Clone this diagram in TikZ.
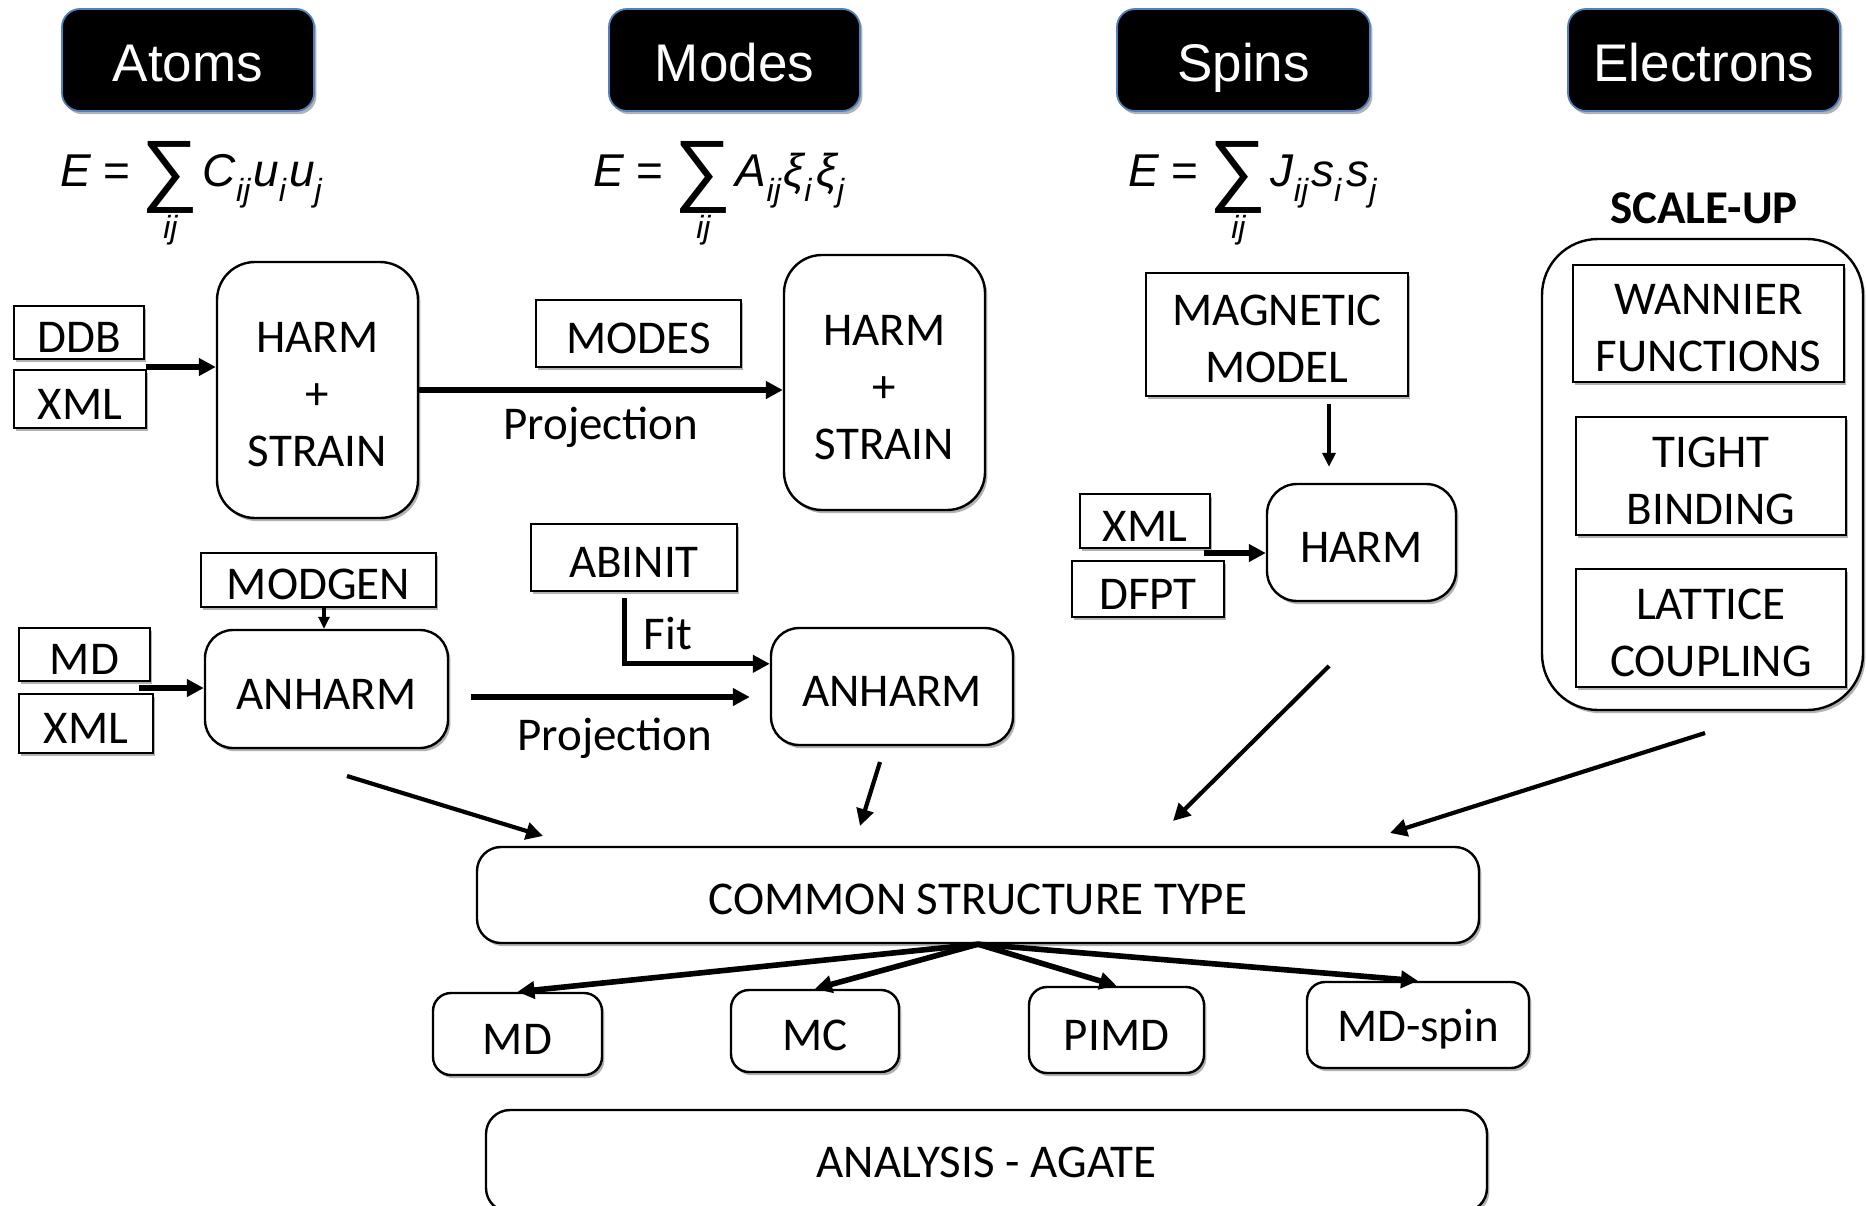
\documentclass[tikz,border=0pt]{standalone}
\usepackage{fontspec}
\setmainfont{Carlito}
\newfontfamily\headfont{Liberation Sans}
\newfontfamily\eqfont{Liberation Sans}
\usetikzlibrary{arrows.meta,shadows,calc}

\definecolor{headedge}{HTML}{4F81BD}

% pieces of the energy expressions
\newcommand\eqit{\eqfont\itshape\fontsize{23}{27}\selectfont}
\newcommand\eqrm{\eqfont\upshape\fontsize{23}{27}\selectfont}
\newcommand\lowidx[1]{\raisebox{-7.5pt}{\eqfont\itshape\fontsize{16}{16}\selectfont #1}\hspace{1.5pt}}
\newcommand\eqsum[1]{%
  \setbox0=\hbox{\eqfont\upshape\fontsize{40}{40}\selectfont ∑}%
  \rlap{\raisebox{-26pt}{\makebox[\wd0]{\eqfont\itshape\fontsize{16}{16}\selectfont #1}}}%
  \raisebox{-5pt}{\copy0}\hspace{2pt}}
% first-line strut that seats stacked labels a little low, as in single-line boxes
\newcommand\capstrut{\rule{0pt}{20pt}}

\tikzset{
  softshadow/.style={drop shadow={shadow xshift=1.2pt,shadow yshift=-1.6pt,opacity=0.3,fill=black}},
  header/.style={fill=black, draw=headedge, line width=0.9pt, rounded corners=9pt,
    text=white, font=\headfont\fontsize{26.5}{30}\selectfont, inner sep=0pt,
    text depth=0pt, execute at begin node={\rule{0pt}{21pt}}, softshadow},
  srcbox/.style={draw, line width=1.2pt, fill=white, inner sep=0pt, align=center,
    font=\fontsize{23.5}{28.5}\selectfont, softshadow},
  onebox/.style={srcbox, execute at begin node={\capstrut}},
  stagebox/.style={srcbox, rounded corners=#1},
  stagebox/.default=15pt,
  onestage/.style={onebox, rounded corners=#1},
  feed/.style={line width=2.6pt, -{Triangle[length=8.5pt,width=8.5pt]}},
  thinfeed/.style={line width=1.6pt, -{Triangle[length=6pt,width=5.5pt]}},
  lbl/.style={font=\fontsize{23.5}{28.5}\selectfont, inner sep=0pt, anchor=base},
  eq/.style={inner sep=0pt, anchor=base west},
}

\begin{document}
\begin{tikzpicture}[x=0.5pt,y=-0.5pt]
\useasboundingbox (0,0) rectangle (1866,1205);

% column headers
\node[header, minimum width=126pt,   minimum height=51pt] (atoms)     at (188,60)    {Atoms};
\node[header, minimum width=125.5pt, minimum height=51pt] (modes)     at (734.5,60)  {Modes};
\node[header, minimum width=126.5pt, minimum height=51pt] (spins)     at (1243.5,60) {Spins};
\node[header, minimum width=136pt,   minimum height=51pt] (electrons) at (1704,60)   {Electrons};

% energy expressions
\node[eq] (eqatoms) at (60,186)
  {{\eqit E}\hspace{6pt}{\eqrm =}\hspace{6pt}\eqsum{ij}{\eqit C}\lowidx{ij}{\eqit u}\lowidx{i}{\eqit u}\lowidx{j}};
\node[eq] (eqmodes) at (593,186)
  {{\eqit E}\hspace{6pt}{\eqrm =}\hspace{6pt}\eqsum{ij}{\eqit A}\lowidx{ij}{\eqit ξ}\lowidx{i}\hspace{1pt}{\eqit ξ}\lowidx{j}};
\node[eq] (eqspins) at (1128,186)
  {{\eqit E}\hspace{6pt}{\eqrm =}\hspace{6pt}\eqsum{ij}{\eqit J}\lowidx{ij}{\eqit s}\lowidx{i}\hspace{1pt}{\eqit s}\lowidx{j}};

% atoms: harmonic part
\node[onebox, minimum width=65pt, minimum height=26.5pt] (ddb)  at (79,332.5) {DDB};
\node[onebox, minimum width=66pt, minimum height=29pt]   (xmla) at (80,399)   {XML};
\node[stagebox=19pt, minimum width=100.5pt, minimum height=128pt] (harma) at (317.5,390) {\capstrut HARM\\+\\STRAIN};

% modes: harmonic part
\node[onebox, minimum width=102.5pt, minimum height=33.5pt] (modesrc) at (638.5,333.5) {MODES};
\node[stagebox=19pt, minimum width=100.5pt, minimum height=127.5pt] (harmm) at (884.5,382.5) {\capstrut HARM\\+\\STRAIN};
\node[lbl] (proja) at (601,439) {Projection};

% atoms: anharmonic part
\node[onebox, minimum width=117.5pt, minimum height=27pt] (modgen) at (318.5,580) {MODGEN};
\node[onebox, minimum width=65.5pt, minimum height=26.5pt] (mdsrc) at (84.5,654.5) {MD};
\node[onebox, minimum width=67pt, minimum height=29.5pt] (xmlb) at (86,723.5) {XML};
\node[onestage=14pt, minimum width=121.5pt, minimum height=59pt] (anharma) at (326.5,689) {ANHARM};

% modes: anharmonic part
\node[onebox, minimum width=103pt, minimum height=33.5pt] (abinit) at (634,557.5) {ABINIT};
\node[onestage=14pt, minimum width=121pt, minimum height=58.5pt] (anharmm) at (892,686.5) {ANHARM};
\node[lbl] (fit) at (668,649) {Fit};
\node[lbl] (projb) at (615,750) {Projection};

% spins
\node[srcbox, minimum width=131pt, minimum height=61.5pt] (magnetic) at (1277,334.5) {\capstrut MAGNETIC\\MODEL};
\node[onebox, minimum width=65pt, minimum height=27pt] (xmlc) at (1145,521) {XML};
\node[onebox, minimum width=76pt, minimum height=28pt] (dfpt) at (1148,589) {DFPT};
\node[onestage=15pt, minimum width=94.5pt, minimum height=58.5pt] (harms) at (1361.5,542.5) {HARM};

% electrons
\node[lbl, font=\bfseries\fontsize{23.5}{28.5}\selectfont] (scaleup) at (1704,223) {SCALE-UP};
\node[stagebox=28pt, minimum width=160.5pt, minimum height=235.5pt] (scalebox) at (1702.5,474.5) {};
\node[srcbox, minimum width=135.5pt, minimum height=58.5pt] (wannier) at (1708.5,323.5) {\capstrut WANNIER\\FUNCTIONS};
\node[srcbox, minimum width=135pt, minimum height=59pt] (tight) at (1711,476) {\capstrut TIGHT\\BINDING};
\node[srcbox, minimum width=135pt, minimum height=59pt] (lattice) at (1711,628) {\capstrut LATTICE\\COUPLING};

% shared structure and drivers
\node[onestage=12pt, minimum width=501pt, minimum height=48pt] (cst) at (978,895) {COMMON STRUCTURE TYPE};
\node[onestage=9pt, minimum width=84.5pt, minimum height=41pt] (md) at (517.5,1034) {MD};
\node[onestage=9pt, minimum width=84pt, minimum height=41pt] (mc) at (815,1031) {MC};
\node[onestage=9pt, minimum width=87.5pt, minimum height=43pt] (pimd) at (1116.5,1030) {PIMD};
\node[onestage=9pt, minimum width=111pt, minimum height=43pt] (mdspin) at (1418,1025) {MD-spin};
\node[stagebox=12pt, minimum width=500.5pt, minimum height=51pt] (agate) at (986.5,1161) {};
\node[lbl] (agatetext) at (986.5,1177) {ANALYSIS - AGATE};

% free ends of the connectors
\coordinate (ddbout) at (146,367);
\coordinate (mdout) at (139,688);
\coordinate (xmlcout) at (1204,553);
\coordinate (atomsin) at (347,776);
\coordinate (atomstip) at (543,836);
\coordinate (modesin) at (880,762);
\coordinate (modestip) at (860,826);
\coordinate (spinsin) at (1329,666);
\coordinate (spinstip) at (1173,821);
\coordinate (elecin) at (1705,733);
\coordinate (electip) at (1390,833);

% connectors
\draw[feed] (ddbout) -- (ddbout -| harma.west);
\draw[feed] (harma.east) -- (harma.east -| harmm.west);
\draw[thinfeed] ($(modgen.south)+(5.5,0)$) -- ($(anharma.north)+(-2.5,0)$);
\draw[feed] (mdout) -- (mdout -| anharma.west);
\draw[feed] ($(abinit.south)+(-9.5,6)$) |- ($(anharmm.north west)+(0,37)$);
\draw[feed] ($(anharma.east)+(22,8)$) -- ($(anharmm.west)+(-20,10.5)$);
\draw[thinfeed, line width=1.8pt, -{Triangle[length=7pt,width=6.5pt]}] ($(magnetic.south)+(52,7)$) -- ($(harms.north)+(-32.5,-16)$);
\draw[feed] (xmlcout) -- (xmlcout -| harms.west);

\draw[feed, line width=2.1pt] (atomsin) -- (atomstip);
\draw[feed, line width=2.1pt] (modesin) -- (modestip);
\draw[feed, line width=2.1pt] (spinsin) -- (spinstip);
\draw[feed, line width=2.1pt] (elecin) -- (electip);

\draw[feed, line width=2.8pt] (cst.south) -- (md.north);
\draw[feed, line width=2.8pt] (cst.south) -- (mc.north);
\draw[feed, line width=2.8pt] (cst.south) -- (pimd.north);
\draw[feed, line width=2.8pt] (cst.south) -- (mdspin.north);
\end{tikzpicture}
\end{document}
